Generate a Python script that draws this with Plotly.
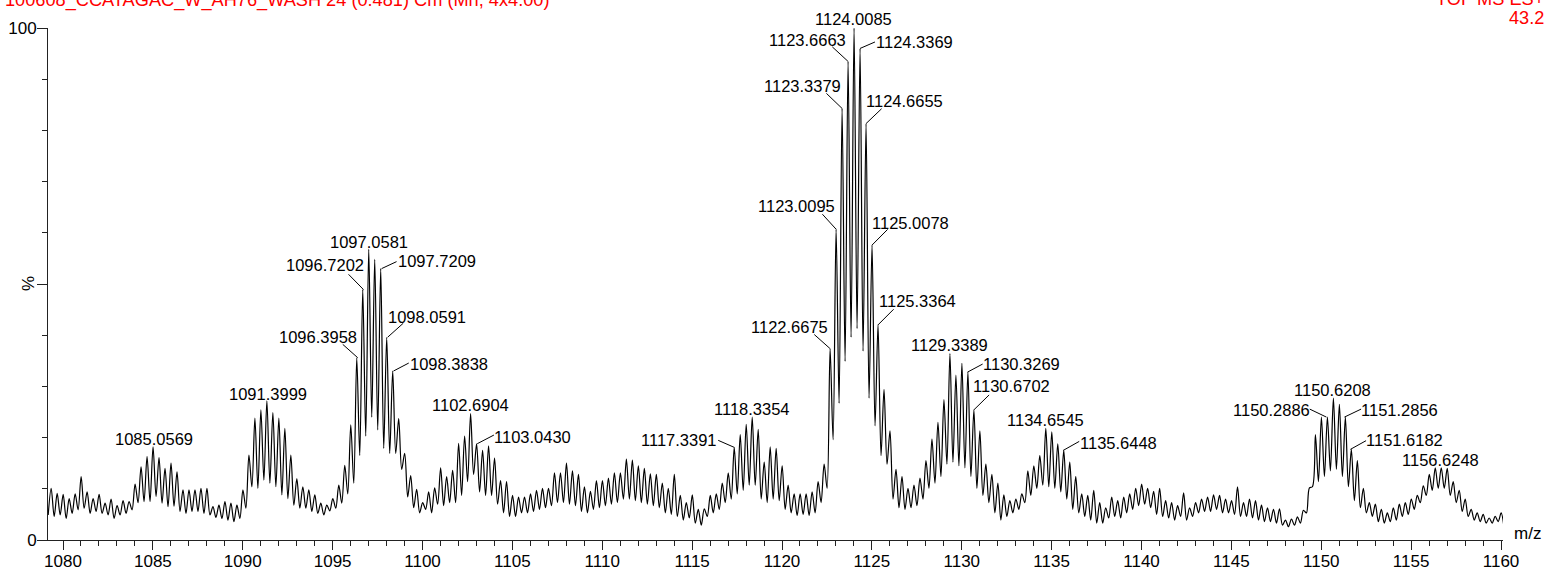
import plotly.graph_objects as go

# ---------------- data ----------------
MZ_FIRST_PEAK = 1079.342      # m/z of first isotope-like peak in the trace
MZ_STEP = 0.33333             # peak spacing (charge 3)

PEAK_INTENSITY = [
    10.1, 9.1, 8.9, 8.1, 9.0, 12.4, 9.4, 8.1, 8.9, 7.2,
    8.0, 6.7, 7.7, 7.5, 10.9, 14.3, 16.3, 18.2, 16.1, 14.0,
    15.0, 13.3, 9.8, 9.8, 9.8, 10.1, 10.1, 6.5, 6.8, 7.5,
    7.2, 6.8, 9.8, 16.6, 23.8, 25.4, 27.2, 24.9, 23.8, 21.8,
    16.6, 12.0, 10.4, 9.8, 8.8, 7.2, 6.8, 8.1, 10.7, 14.6,
    22.5, 35.6, 48.9, 56.8, 54.8, 53.0, 39.6, 33.0, 23.7, 16.9,
    12.6, 9.9, 7.3, 9.4, 10.2, 14.1, 12.4, 13.6, 18.9, 20.3,
    24.7, 18.8, 17.5, 18.4, 16.0, 11.6, 11.4, 8.7, 8.4, 8.4,
    9.0, 9.7, 10.1, 10.1, 13.1, 13.1, 15.0, 13.5, 12.8, 10.4,
    9.5, 11.6, 11.6, 12.1, 13.1, 13.1, 15.8, 15.6, 14.5, 14.0,
    12.9, 12.8, 11.1, 10.1, 12.8, 8.7, 7.3, 8.8, 6.0, 6.1,
    8.7, 9.0, 11.1, 13.1, 18.1, 20.6, 22.6, 24.0, 21.6, 15.2,
    18.2, 17.9, 14.5, 10.7, 9.0, 9.0, 9.0, 9.4, 11.4, 14.8,
    37.4, 60.7, 84.3, 93.5, 100.0, 96.0, 81.3, 57.6, 42.0, 29.4,
    21.3, 13.8, 12.4, 10.1, 10.7, 12.1, 15.5, 19.7, 23.0, 27.4,
    36.4, 32.2, 34.5, 32.8, 25.4, 21.3, 14.8, 12.8, 11.1, 8.8,
    7.7, 8.0, 9.0, 13.5, 14.5, 16.5, 21.8, 21.1, 18.8, 17.5,
    15.2, 12.4, 9.0, 8.7, 9.7, 7.3, 6.3, 8.4, 7.7, 8.4,
    9.0, 10.1, 10.9, 10.1, 9.5, 10.1, 7.7, 7.3, 6.7, 9.2,
    6.3, 7.3, 8.0, 8.4, 8.8, 8.7, 8.0, 7.7, 10.4, 7.3,
    8.0, 7.7, 6.8, 6.3, 6.0, 6.1, 3.9, 4.1, 4.5, 5.8,
    10.2, 20.6, 24.0, 24.0, 27.7, 26.5, 24.0, 17.7, 15.5, 10.1,
    7.3, 7.0, 6.0, 5.3, 6.3, 7.0, 7.3, 8.0, 8.7, 10.6,
    12.8, 14.1, 14.1, 14.0, 11.4, 9.7, 8.0, 6.0, 5.3, 5.0,
    4.3, 4.6, 5.3,
]

# start level, the minimum between each pair of peaks, end level
VALLEY_INTENSITY = [
    4.9,
    4.6, 4.9, 4.2, 5.2, 5.9, 6.2, 5.2, 5.6, 5.2, 4.9,
    4.2, 4.9, 5.2, 5.9, 7.3, 7.5, 7.5, 8.5, 7.2, 6.5,
    6.6, 5.6, 5.2, 5.6, 5.6, 5.2, 4.9, 4.4, 4.2, 3.9,
    3.6, 4.2, 6.2, 10.4, 10.1, 11.7, 11.1, 10.4, 8.8, 8.1,
    6.8, 6.2, 6.2, 5.6, 5.2, 4.9, 5.7, 6.2, 7.2, 9.0,
    11.1, 16.5, 20.3, 24.0, 21.5, 17.9, 16.9, 16.9, 13.8, 8.4,
    6.3, 5.3, 6.0, 5.3, 7.0, 6.7, 7.3, 7.3, 8.7, 11.4,
    12.8, 9.4, 8.7, 8.7, 7.0, 5.3, 4.6, 4.6, 5.3, 5.3,
    5.6, 6.0, 6.3, 6.7, 7.3, 7.3, 7.0, 6.7, 5.6, 5.3,
    6.0, 6.3, 6.7, 7.0, 7.3, 8.0, 8.0, 7.7, 7.3, 7.0,
    6.7, 6.3, 5.3, 5.0, 4.6, 3.9, 4.3, 3.3, 2.9, 4.6,
    5.3, 6.0, 7.3, 8.0, 9.0, 9.7, 10.7, 10.7, 8.0, 7.3,
    8.0, 7.7, 6.0, 5.3, 4.8, 5.0, 4.8, 5.3, 7.3, 10.1,
    19.6, 26.7, 34.9, 39.6, 41.3, 36.9, 27.7, 22.3, 16.5, 14.8,
    8.0, 6.3, 6.0, 6.3, 6.7, 8.0, 10.1, 11.1, 12.4, 14.8,
    15.2, 14.5, 14.1, 12.4, 10.1, 8.7, 7.3, 5.3, 3.9, 4.6,
    5.3, 6.0, 7.3, 8.7, 10.1, 10.7, 10.4, 10.1, 9.4, 8.0,
    6.0, 5.3, 4.6, 3.9, 3.3, 3.3, 4.3, 4.6, 4.3, 5.3,
    6.0, 6.7, 7.0, 6.3, 5.0, 4.6, 4.3, 3.9, 4.6, 3.9,
    4.6, 5.3, 5.6, 5.6, 6.0, 5.3, 5.3, 5.0, 4.6, 4.6,
    4.3, 3.9, 3.6, 3.6, 3.3, 2.9, 2.6, 2.9, 3.3, 5.3,
    10.4, 11.4, 12.4, 13.5, 13.8, 12.4, 10.4, 7.7, 6.3, 5.3,
    4.6, 3.6, 3.3, 3.6, 3.9, 4.6, 5.0, 6.0, 7.3, 8.7,
    9.7, 10.1, 10.1, 8.7, 7.3, 5.6, 4.6, 3.9, 3.6, 3.3,
    3.3, 3.6,
    2.2,
]

LABEL_MZ = [
    1085.0569, 1091.3999, 1096.3958, 1096.7202, 1097.0581, 1097.7209,
    1098.0591, 1098.3838, 1102.6904, 1103.0430, 1117.3391, 1118.3354,
    1122.6675, 1123.0095, 1123.3379, 1123.6663, 1124.0085, 1124.3369,
    1124.6655, 1125.0078, 1125.3364, 1129.3389, 1130.3269, 1130.6702,
    1134.6545, 1135.6448, 1150.2886, 1150.6208, 1151.2856, 1151.6182,
    1156.6248,
]
LABEL_TEXT = ["%.4f" % m for m in LABEL_MZ]

X_TICKS = list(range(1080, 1161, 5))
Y_TICKS = [0, 50, 100]
Y_TICK_TEXT = ["0", "", "100"]

TITLE_LEFT = "100608_CCATAGAC_W_AH76_WASH 24 (0.481) Cm (Mn, 4x4.00)"
TITLE_RIGHT_1 = "TOF MS ES+"
TITLE_RIGHT_2 = "43.2"

# ---------------- label placement (pixels, up = positive) ----------------
# key: label text -> (leader tail (dx, dy) or None, text anchor, text dx, text dy)
PLACE = {
    "1085.0569": (None, "center", 0, 9),
    "1091.3999": (None, "center", 0, 8.5),
    "1096.3958": ((-15, 13.4), "right", -1, 22),
    "1096.7202": ((-15, 15.3), "right", 0, 26),
    "1097.0581": (None, "center", -1, 9),
    "1097.7209": ((15, 7), "left", 16.5, 9),
    "1098.0591": ((15.6, 14), "left", 0, 22),
    "1098.3838": ((15.3, 8), "left", 17, 9),
    "1102.6904": (None, "center", 0, 9.9),
    "1103.0430": ((16.7, 8.7), "left", 17, 8.7),
    "1117.3391": ((-16, 7), "right", -17, 8.8),
    "1118.3354": (None, "center", 0, 9.5),
    "1122.6675": ((-15.7, 14), "right", -2, 23),
    "1123.0095": ((-13.7, 15), "right", -1, 24.5),
    "1123.3379": ((-15.6, 15), "right", -1, 24),
    "1123.6663": ((-15.6, 14.4), "right", -1.6, 22.7),
    "1124.0085": (None, "center", -1, 10.8),
    "1124.3369": ((15, 6.5), "left", 16, 7.5),
    "1124.6655": ((15.7, 15), "left", 0, 24),
    "1125.0078": ((15.6, 15.7), "left", 0, 24),
    "1125.3364": ((15.7, 15.7), "left", 1, 25),
    "1129.3389": (None, "center", 0, 10),
    "1130.3269": ((15, 8), "left", 15.5, 10),
    "1130.6702": ((15.3, 15), "left", -1, 25),
    "1134.6545": (None, "center", 0, 9.7),
    "1135.6448": ((16, 9), "left", 16.5, 9),
    "1150.2886": ((-16.7, 8), "right", -16.5, 9),
    "1150.6208": (None, "center", 0, 9.5),
    "1151.2856": ((16.7, 8), "left", 16.5, 9),
    "1151.6182": ((15.7, 8.7), "left", 16, 11),
    "1156.6248": (None, "center", 0, 9),
}

FONT = "Liberation Sans, Arial, Helvetica, sans-serif"
LABEL_SIZE = 16.5
TICK_SIZE = 17
HEAD_SIZE = 18.2
INK = "#000000"
AXIS = "#222222"
RED = "#ff0000"

W, H = 1545, 571
ML, MR, MT, MB = 48, 42, 28, 31
X_RANGE = [1079.165, 1160.11]

# ---------------- build the trace ----------------
xs, ys = [MZ_FIRST_PEAK - MZ_STEP / 2], [VALLEY_INTENSITY[0]]
for k, p in enumerate(PEAK_INTENSITY):
    xs.append(MZ_FIRST_PEAK + k * MZ_STEP)
    ys.append(p)
    xs.append(MZ_FIRST_PEAK + (k + 0.5) * MZ_STEP)
    ys.append(VALLEY_INTENSITY[k + 1])

fig = go.Figure()
fig.add_trace(go.Scatter(
    x=xs, y=ys, mode="lines",
    line=dict(color=INK, width=1.2, shape="spline", smoothing=0.9),
    hoverinfo="skip", showlegend=False,
))

annotations = []
shapes = []
V_CORR = -1.5   # visual centre of digits vs annotation box centre
H_PAD = 2       # annotation box padding

for mz, txt in zip(LABEL_MZ, LABEL_TEXT):
    k = int(round((mz - MZ_FIRST_PEAK) / MZ_STEP))
    inten = PEAK_INTENSITY[k]
    leader, anchor, tdx, tdy = PLACE[txt]
    if leader is not None:
        shapes.append(dict(
            type="line", xref="x", yref="y",
            xsizemode="pixel", ysizemode="pixel",
            xanchor=mz, yanchor=inten,
            x0=0, y0=0, x1=leader[0], y1=leader[1],
            line=dict(color=INK, width=1),
        ))
    if anchor == "left":
        tdx -= H_PAD
    elif anchor == "right":
        tdx += H_PAD
    annotations.append(dict(
        x=mz, y=inten, xref="x", yref="y", text=txt, showarrow=False,
        xanchor=anchor, yanchor="middle", xshift=tdx, yshift=tdy + V_CORR,
        font=dict(family=FONT, size=LABEL_SIZE, color=INK),
    ))

# header texts (partly cut by the top edge, as in the reference)
annotations.append(dict(
    x=0, y=1, xref="paper", yref="paper", text=TITLE_LEFT, showarrow=False,
    xanchor="left", yanchor="middle", xshift=-ML + 3, yshift=MT + 1 + V_CORR,
    font=dict(family=FONT, size=HEAD_SIZE, color=RED),
))
annotations.append(dict(
    x=1, y=1, xref="paper", yref="paper", text=TITLE_RIGHT_1, showarrow=False,
    xanchor="right", yanchor="middle", xshift=MR + 1, yshift=MT + 3 + V_CORR,
    font=dict(family=FONT, size=HEAD_SIZE, color=RED),
))
annotations.append(dict(
    x=1, y=1, xref="paper", yref="paper", text=TITLE_RIGHT_2, showarrow=False,
    xanchor="right", yanchor="middle", xshift=MR + 1, yshift=MT - 16.5 + V_CORR,
    font=dict(family=FONT, size=HEAD_SIZE, color=RED),
))
# axis captions
annotations.append(dict(
    x=1, y=0, xref="paper", yref="paper", text="m/z", showarrow=False,
    xanchor="left", yanchor="middle", xshift=10 - H_PAD + 1, yshift=8 + V_CORR,
    font=dict(family=FONT, size=TICK_SIZE, color=INK),
))
annotations.append(dict(
    x=0, y=50, xref="paper", yref="y", text="%", showarrow=False, textangle=-90,
    xanchor="center", yanchor="middle", xshift=-20, yshift=0,
    font=dict(family=FONT, size=TICK_SIZE, color=INK),
))

fig.update_layout(
    template="none",
    width=W, height=H,
    margin=dict(l=ML, r=MR, t=MT, b=MB, pad=0, autoexpand=False),
    paper_bgcolor="white", plot_bgcolor="white",
    font=dict(family=FONT, size=TICK_SIZE, color=INK),
    showlegend=False,
    annotations=annotations,
    shapes=shapes,
    xaxis=dict(
        range=X_RANGE, showgrid=False, zeroline=False, automargin=False,
        showline=True, linecolor=AXIS, linewidth=1,
        tickmode="array", tickvals=X_TICKS,
        ticks="outside", ticklen=9, tickwidth=1, tickcolor=AXIS,
        ticklabelstandoff=-3,
        tickfont=dict(family=FONT, size=TICK_SIZE, color=INK),
        minor=dict(tickmode="linear", tick0=1080, dtick=1, ticks="outside",
                   ticklen=5, tickwidth=1, tickcolor=AXIS),
    ),
    yaxis=dict(
        range=[0, 100], showgrid=False, zeroline=False, automargin=False,
        showline=True, linecolor=AXIS, linewidth=1,
        tickmode="array", tickvals=Y_TICKS, ticktext=Y_TICK_TEXT,
        ticks="outside", ticklen=10, tickwidth=1, tickcolor=AXIS,
        ticklabelstandoff=-3,
        tickfont=dict(family=FONT, size=TICK_SIZE, color=INK),
        minor=dict(tickmode="linear", tick0=0, dtick=10, ticks="outside",
                   ticklen=5, tickwidth=1, tickcolor=AXIS),
    ),
)

fig.write_html("out.html", config={"displayModeBar": False})
